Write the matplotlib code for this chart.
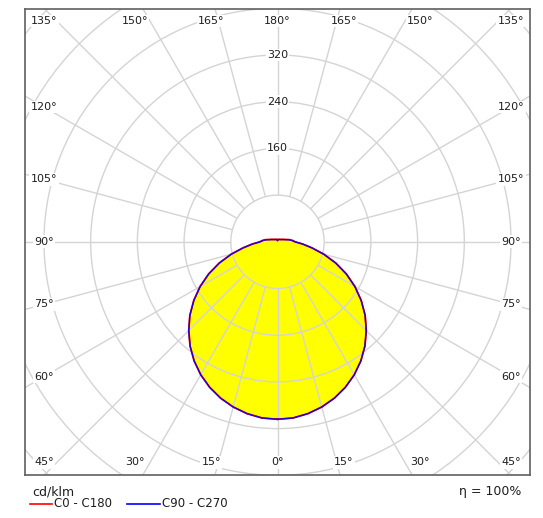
import numpy as np
import matplotlib
matplotlib.use("Agg")
import matplotlib.pyplot as plt
from matplotlib.lines import Line2D
from matplotlib.patches import Circle

# luminous intensity (cd/klm) against gamma angle
gamma = [0, 5, 10, 15, 20, 25, 30, 35, 40, 45, 50, 55, 60, 65, 70, 75, 80, 85, 90,
         95, 100, 105, 110, 115, 120, 125, 130, 135, 140, 145, 150, 155, 160, 165,
         170, 175, 180]
c0_c180 = [304, 303, 299, 293, 285, 275, 263, 249, 233, 215, 196, 175, 153, 130, 106,
           82, 60, 43, 30, 26, 21, 15, 12, 10, 8, 7, 6.5, 6, 5.5, 5, 4.8, 4.6, 4.4,
           4.2, 3.6, 2.6, 2]
c90_c270 = [304, 303, 299, 293, 285, 275, 263, 249, 233, 215, 196, 175, 153, 130, 106,
            82, 60, 43, 30, 25, 20, 14, 11, 9, 7.5, 6.5, 6, 5.5, 5, 4.8, 4.5, 4.4,
            4.3, 4, 3.5, 2.5, 2]

ring_values = [80, 160, 240, 320, 400, 480, 560, 640]
ring_labels = [160, 240, 320]
spoke_angles = list(range(0, 360, 15))

side_angles = [135, 120, 105, 90, 75, 60, 45]
top_angles = [150, 165, 180, 165, 150]
bottom_angles = [30, 15, 0, 15, 30]

grid_col = "#d4d4d4"
text_col = "#1e1e1e"


def outline(values):
    g = np.radians(gamma)
    v = np.array(values, dtype=float)
    x = np.concatenate([v * np.sin(g), -(v * np.sin(g))[::-1]])
    y = np.concatenate([-v * np.cos(g), (-v * np.cos(g))[::-1]])
    return x, y


fig = plt.figure(figsize=(5.43, 5.18), dpi=100)
ax = fig.add_axes([25 / 543, (518 - 475.3) / 518, 505 / 543, 466.3 / 518])
ax.set_xlim(-432.5, 432.5)
ax.set_ylim(-400, 398.8)
ax.set_xticks([])
ax.set_yticks([])
for sp in ax.spines.values():
    sp.set_color("#606060")
    sp.set_linewidth(1.2)

# yellow area of the distribution
xf, yf = outline(np.maximum(c0_c180, c90_c270))
ax.fill(xf, yf, color="#ffff00", lw=0, zorder=1)

# grid: rings and spokes (spokes start at the first ring)
for r in ring_values:
    ax.add_patch(Circle((0, 0), r, fill=False, ec=grid_col, lw=1.0, zorder=2))
for a in spoke_angles:
    t = np.radians(a)
    ax.plot([ring_values[0] * np.sin(t), 800 * np.sin(t)],
            [-ring_values[0] * np.cos(t), -800 * np.cos(t)],
            color=grid_col, lw=1.0, zorder=2, solid_capstyle="butt")

# curves
xr, yr = outline(c0_c180)
ax.plot(xr, yr, color="#ff0000", lw=1.3, zorder=3)
xb, yb = outline(c90_c270)
ax.plot(xb, yb, color="#1a00e0", lw=1.0, zorder=4)

box = dict(fc="white", ec="none", pad=1.0)
lab = dict(fontsize=8, color=text_col, ha="center", va="center", bbox=box, zorder=5)

for v in ring_labels:
    ax.text(0, v, str(v), **lab)

# angle labels around the frame
for a in side_angles:
    if a in (135, 45):
        y = 378 if a == 135 else -378
    else:
        y = 400 * np.tan(np.radians(a - 90))
    ax.text(-400, y, f"{a}°", **lab)
    ax.text(400, y, f"{a}°", **lab)

for i, a in enumerate(top_angles):
    side = -1 if i < 2 else 1
    x = side * 424 * np.tan(np.radians(180 - a))
    ax.text(x, 378, f"{a}°", **lab)

for i, a in enumerate(bottom_angles):
    side = -1 if i < 2 else 1
    x = side * 424 * np.tan(np.radians(a))
    ax.text(x, -378, f"{a}°", **lab)

# footer: unit, legend, efficiency
W, H = 543, 518
fig.text(32 / W, 1 - 492 / H, "cd/klm", fontsize=9, color=text_col, va="center")
fig.text(521 / W, 1 - 491 / H, "η = 100%", fontsize=9, color=text_col,
         va="center", ha="right")
fig.add_artist(Line2D([30 / W, 52 / W], [1 - 503.5 / H] * 2, color="#ff0000", lw=1.2))
fig.text(54 / W, 1 - 503.5 / H, "C0 - C180", fontsize=8.5, color=text_col, va="center")
fig.add_artist(Line2D([127 / W, 160 / W], [1 - 503.5 / H] * 2, color="#0000ff", lw=1.2))
fig.text(162 / W, 1 - 503.5 / H, "C90 - C270", fontsize=8.5, color=text_col, va="center")

fig.savefig("out.png", dpi=100, facecolor="white")
